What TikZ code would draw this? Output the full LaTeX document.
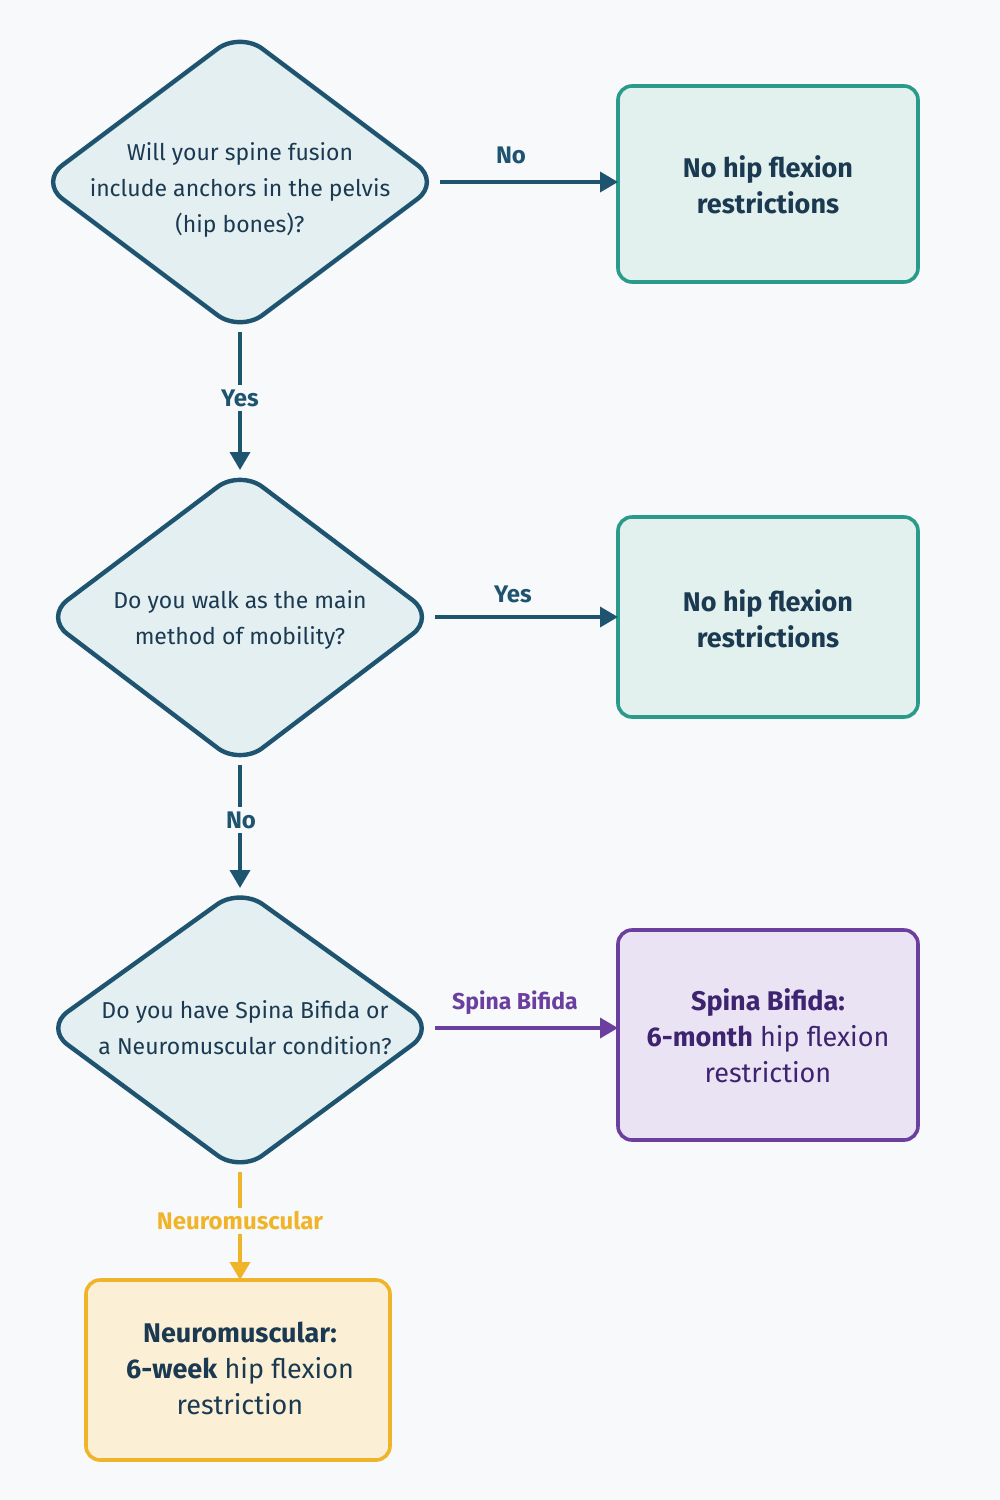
\documentclass[tikz,border=0pt]{standalone}
\usepackage{fontspec}
\setmainfont{Fira Sans}
\usetikzlibrary{arrows.meta}
\definecolor{bg}{HTML}{F8F9FA}
\definecolor{dstroke}{HTML}{1F5470}
\definecolor{dfill}{HTML}{E4EFF1}
\definecolor{txt}{HTML}{1B3A52}
\definecolor{teal}{HTML}{2A9A8A}
\definecolor{tealf}{HTML}{E2F1EE}
\definecolor{purp}{HTML}{6B3FA0}
\definecolor{purpf}{HTML}{EAE3F3}
\definecolor{purpt}{HTML}{3E2470}
\definecolor{yel}{HTML}{F0B42A}
\definecolor{yelf}{HTML}{FBF0D6}
\begin{document}
\begin{tikzpicture}[x=0.5pt,y=-0.5pt,
 dia/.style={draw=dstroke,fill=dfill,line width=2.2pt,rounded corners=14pt},
 dtxt/.style={text=txt,align=center,font=\fontsize{11.5}{18}\selectfont},
 box/.style={rounded corners=7pt,line width=1.8pt},
 btxt/.style={align=center,font=\fontsize{13.5}{18}\selectfont},
 arr/.style={line width=1.8pt,-{Triangle[length=9pt,width=10pt]}},
 lbl/.style={font=\fontsize{12}{14}\selectfont\bfseries,fill=bg,inner sep=2pt}]
\fill[bg] (0,0) rectangle (1000,1500);
% diamonds
\draw[dia] (240,32) -- (440,182) -- (240,332) -- (40,182) -- cycle;
\node[dtxt] (d1) at (240,190) {Will your spine fusion\\include anchors in the pelvis\\(hip bones)?};
\draw[dia] (240,470) -- (435,617) -- (240,765) -- (45,617) -- cycle;
\node[dtxt] (d2) at (240,620) {Do you walk as the main\\method of mobility?};
\draw[dia] (240,888) -- (435,1028) -- (240,1172) -- (45,1028) -- cycle;
\node[dtxt] (d3) at (245,1028) {Do you have Spina Bifida or\\a Neuromuscular condition?};
\coordinate (d1r) at (440,182); \coordinate (d1b) at (240,332);
\coordinate (d2t) at (240,470); \coordinate (d2r) at (435,617); \coordinate (d2b) at (240,765);
\coordinate (d3t) at (240,888); \coordinate (d3r) at (435,1028); \coordinate (d3b) at (240,1172);
% boxes
\draw[box,draw=teal,fill=tealf] (618,86) rectangle (918,282);
\node[btxt,text=txt,font=\fontsize{13.5}{18}\selectfont\bfseries] (b1) at (768,185) {No hip flexion\\restrictions};
\draw[box,draw=teal,fill=tealf] (618,517) rectangle (918,717);
\node[btxt,text=txt,font=\fontsize{13.5}{18}\selectfont\bfseries] (b2) at (768,619) {No hip flexion\\restrictions};
\draw[box,draw=purp,fill=purpf] (618,930) rectangle (918,1140);
\node[btxt,text=purpt] (b3) at (768,1036) {\textbf{Spina Bifida:}\\\textbf{6-month} hip flexion\\restriction};
\draw[box,draw=yel,fill=yelf] (86,1280) rectangle (390,1460);
\node[btxt,text=txt] (b4) at (240,1368) {\textbf{Neuromuscular:}\\\textbf{6-week} hip flexion\\restriction};
\coordinate (b1l) at (618,182); \coordinate (b2l) at (618,617);
\coordinate (b3l) at (618,1028); \coordinate (b4t) at (240,1280);
% connectors
\draw[arr,dstroke] (d1r) -- (b1l);
\node[lbl,text=dstroke] (l1) at (511,155) {No};
\draw[arr,dstroke] (d1b) -- (d2t);
\node[lbl,text=dstroke] (l2) at (240,398) {Yes};
\draw[arr,dstroke] (d2r) -- (b2l);
\node[lbl,text=dstroke] (l3) at (513,594) {Yes};
\draw[arr,dstroke] (d2b) -- (d3t);
\node[lbl,text=dstroke] (l4) at (241,820) {No};
\draw[arr,purp] (d3r) -- (b3l);
\node[lbl,text=purp,font=\fontsize{11.5}{14}\selectfont\bfseries] (l5) at (515,1003) {Spina Bifida};
\draw[arr,yel] (d3b) -- (b4t);
\node[lbl,text=yel] (l6) at (240,1221) {Neuromuscular};
\end{tikzpicture}
\end{document}
